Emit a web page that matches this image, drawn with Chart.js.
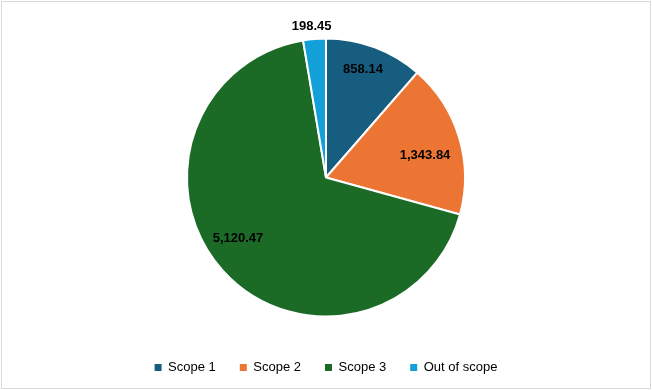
<!DOCTYPE html>
<html>
<head>
<meta charset="utf-8">
<script src="https://cdn.jsdelivr.net/npm/chart.js@4"></script>
<style>
  html, body { margin: 0; padding: 0; background: #ffffff; }
  #wrap { width: 652px; height: 390px; position: relative; }
</style>
</head>
<body>
<div id="wrap"><canvas id="c" width="652" height="390"></canvas></div>
<script>
const categories = ["Scope 1", "Scope 2", "Scope 3", "Out of scope"];
const values = [858.14, 1343.84, 5120.47, 198.45];
const valueLabels = ["858.14", "1,343.84", "5,120.47", "198.45"];
const colors = ["#175d80", "#ed7534", "#1b6b26", "#13a0d8"];

const frame = {
  id: 'frame',
  beforeDraw(chart) {
    const ctx = chart.ctx;
    ctx.save();
    ctx.fillStyle = '#ffffff';
    ctx.fillRect(0, 0, chart.width, chart.height);
    ctx.strokeStyle = '#d9d9d9';
    ctx.lineWidth = 1;
    ctx.strokeRect(1.5, 1.5, chart.width - 3, chart.height - 3);
    ctx.restore();
  }
};

const dataLabels = {
  id: 'dataLabels',
  afterDatasetsDraw(chart, args, opts) {
    const ctx = chart.ctx;
    const meta = chart.getDatasetMeta(0);
    ctx.save();
    ctx.font = 'bold 13px "Liberation Sans", Arial, sans-serif';
    ctx.fillStyle = '#000000';
    ctx.textAlign = 'center';
    ctx.textBaseline = 'middle';
    meta.data.forEach((arc, i) => {
      const p = arc.getProps(['x', 'y', 'startAngle', 'endAngle', 'outerRadius'], true);
      const mid = (p.startAngle + p.endAngle) / 2 + opts.shiftDeg[i] * Math.PI / 180;
      const r = p.outerRadius * opts.radial[i];
      ctx.fillText(valueLabels[i], p.x + Math.cos(mid) * r, p.y + Math.sin(mid) * r);
    });
    ctx.restore();
  }
};

new Chart(document.getElementById('c'), {
  type: 'pie',
  data: {
    labels: categories,
    datasets: [{
      data: values,
      backgroundColor: colors,
      borderColor: '#ffffff',
      borderWidth: 2
    }]
  },
  options: {
    responsive: false,
    animation: false,
    radius: 139,
    layout: { padding: { top: 18, bottom: 6, left: 0, right: 0 } },
    plugins: {
      tooltip: { enabled: false },
      dataLabels: { radial: [0.82, 0.73, 0.77, 1.09], shiftDeg: [-1.6, 4.2, 7.4, -0.7] },
      legend: {
        position: 'bottom',
        labels: {
          boxWidth: 7,
          boxHeight: 7,
          padding: 24,
          color: '#000000',
          font: { family: '"Liberation Sans", Arial, sans-serif', size: 13 },
          generateLabels(chart) {
            const items = Chart.overrides.pie.plugins.legend.labels.generateLabels(chart);
            items.forEach(it => { it.lineWidth = 0; it.strokeStyle = it.fillStyle; });
            return items;
          }
        }
      }
    }
  },
  plugins: [frame, dataLabels]
});
</script>
</body>
</html>
